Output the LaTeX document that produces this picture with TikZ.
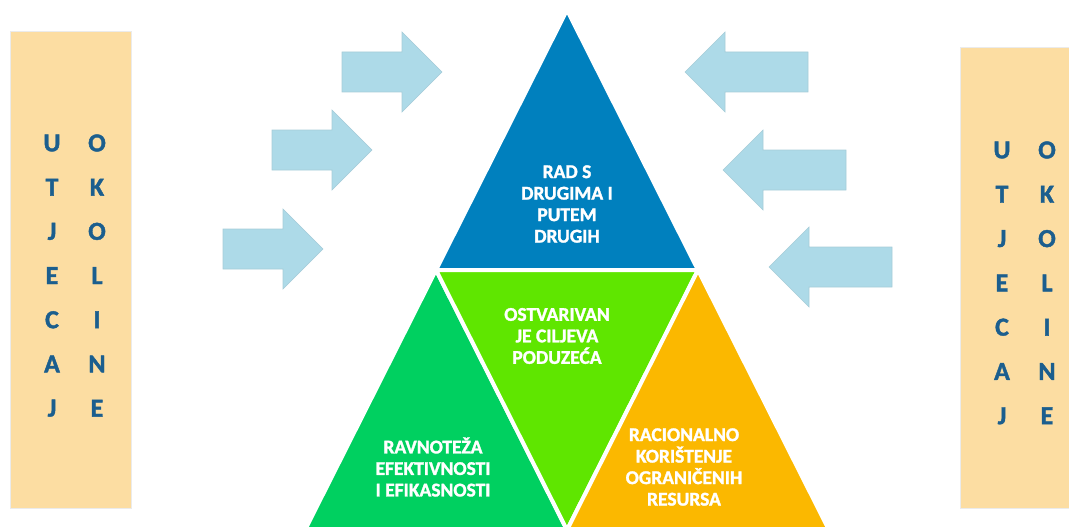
\documentclass[tikz,border=0pt]{standalone}
\usepackage{fontspec}
\setmainfont{Carlito}
\newfontfamily\heavyfont{Carlito Bold}[RawFeature={embolden=1.5}]
\definecolor{boxc}{HTML}{FCDDA2}
\definecolor{letc}{HTML}{1B5E8E}
\definecolor{arrc}{HTML}{ADDAE8}
\definecolor{bluec}{HTML}{0080BE}
\definecolor{limec}{HTML}{5FE600}
\definecolor{greenc}{HTML}{00D060}
\definecolor{orangec}{HTML}{FBB800}
\begin{document}
\begin{tikzpicture}[x=1pt,y=-1pt,
  envbox/.style={fill=boxc, draw=black!8, line width=1},
  letter/.style={text=letc, font=\heavyfont\fontsize{26}{26}\selectfont, inner sep=0pt},
  tri/.style={draw=white, line width=4, line join=miter},
  lbl/.style={text=white, font=\heavyfont\fontsize{19.5}{21.5}\selectfont, align=center, inner sep=0pt},
  arr/.style={fill=arrc, draw=arrc!85!gray, line width=0.6}]
\useasboundingbox (0,0) rectangle (1069,527);
% boxes
\draw[envbox] (10,32) rectangle (131,508);
\draw[envbox] (960,48) rectangle (1075,508);
% letters
\foreach \a/\b [count=\i from 0] in {U/O,T/K,J/O,E/L,C/I,A/N,J/E}{
  \node[letter] (la\i) at (52,143+44.2*\i) {\a};
  \node[letter] (lb\i) at (97,143+44.2*\i) {\b};
  \node[letter] (ra\i) at (1002,150+44.3*\i) {\a};
  \node[letter] (rb\i) at (1047,150+44.3*\i) {\b};
}
% arrows pointing right
\foreach \tx/\ty in {442/72,372/150,323/249}{
  \draw[arr, shift={(\tx,\ty)}] (0,0) -- (-40,-40) -- (-40,-20) -- (-100,-20) -- (-100,20) -- (-40,20) -- (-40,40) -- cycle;
}
% arrows pointing left
\foreach \tx/\ty in {685/72,723/170,769/267}{
  \draw[arr, shift={(\tx,\ty)}] (0,0) -- (40,-40) -- (40,-20) -- (123,-20) -- (123,20) -- (40,20) -- (40,40) -- cycle;
}
% triangles
\coordinate (A) at (567,10);
\coordinate (D) at (436,270);
\coordinate (E) at (698,270);
\coordinate (B) at (305,530);
\coordinate (F) at (567,530);
\coordinate (C) at (829,530);
\filldraw[tri, fill=bluec] (A) -- (D) -- (E) -- cycle;
\filldraw[tri, fill=greenc] (D) -- (B) -- (F) -- cycle;
\filldraw[tri, fill=limec] (D) -- (E) -- (F) -- cycle;
\filldraw[tri, fill=orangec] (E) -- (F) -- (C) -- cycle;
% labels
\node[lbl] (tblue) at (567,204) {RAD S\\DRUGIMA I\\PUTEM\\DRUGIH};
\node[lbl] (tlime) at (557,336) {OSTVARIVAN\\JE CILJEVA\\PODUZEĆA};
\node[lbl] (tgreen) at (433,467) {RAVNOTEŽA\\EFEKTIVNOSTI\\I EFIKASNOSTI};
\node[lbl] (torange) at (684,467) {RACIONALNO\\KORIŠTENJE\\OGRANIČENIH\\RESURSA};
\end{tikzpicture}
\end{document}
